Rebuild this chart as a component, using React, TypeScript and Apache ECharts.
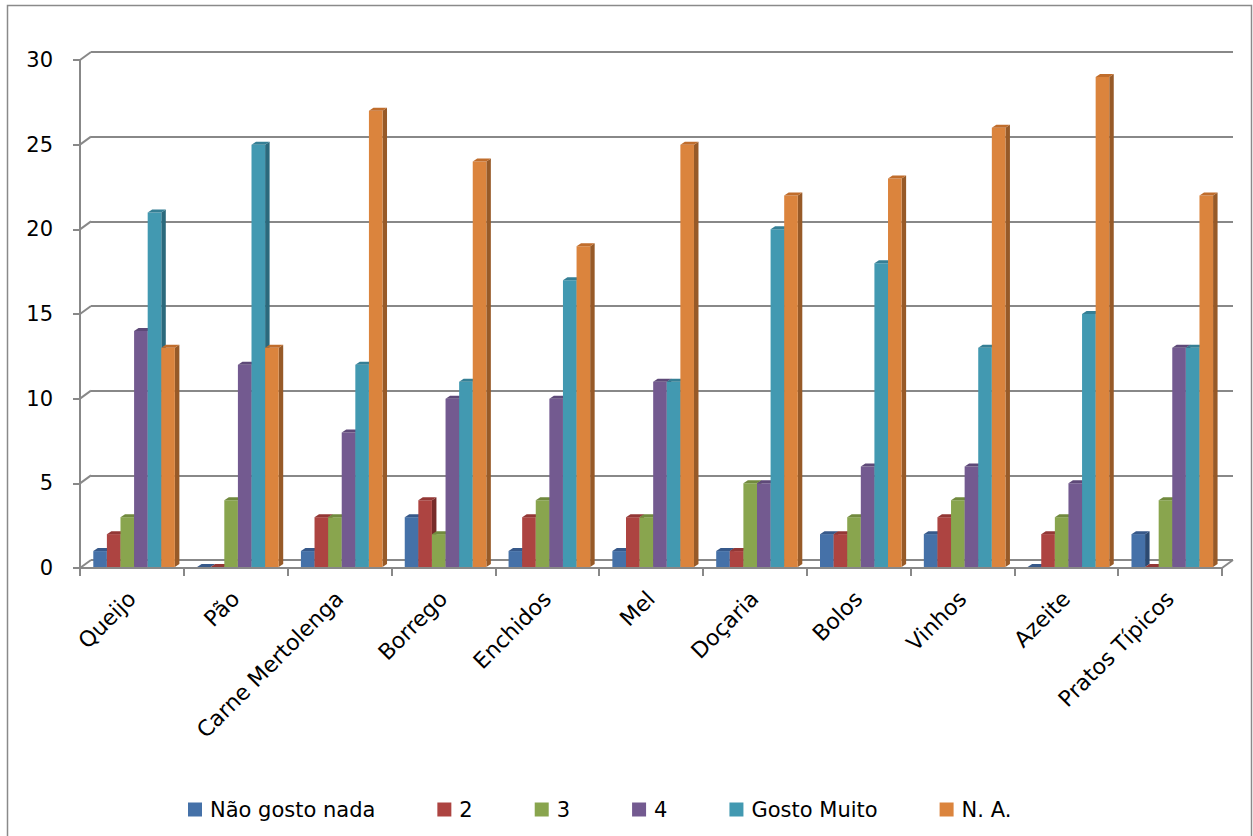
import React, { useEffect, useRef } from "react";
import * as echarts from "echarts";

// Categories and the number of answers per rating
const categories = [
  "Queijo",
  "Pão",
  "Carne Mertolenga",
  "Borrego",
  "Enchidos",
  "Mel",
  "Doçaria",
  "Bolos",
  "Vinhos",
  "Azeite",
  "Pratos Típicos",
];
const seriesNames = ["Não gosto nada", "2", "3", "4", "Gosto Muito", "N. A."];
const naoGostoNada = [1, 0, 1, 3, 1, 1, 1, 2, 2, 0, 2];
const nivel2 = [2, 0, 3, 4, 3, 3, 1, 2, 3, 2, 0];
const nivel3 = [3, 4, 3, 2, 4, 3, 5, 3, 4, 3, 4];
const nivel4 = [14, 12, 8, 10, 10, 11, 5, 6, 6, 5, 13];
const gostoMuito = [21, 25, 12, 11, 17, 11, 20, 18, 13, 15, 13];
const naoAplicavel = [13, 13, 27, 24, 19, 25, 22, 23, 26, 29, 22];
const yTicks = [0, 5, 10, 15, 20, 25, 30];

const seriesValues = [naoGostoNada, nivel2, nivel3, nivel4, gostoMuito, naoAplicavel];

// front / top / side shades of each column
const palette = [
  { front: "#4571a8", top: "#37598a", side: "#2c4a71" },
  { front: "#ad4441", top: "#933735", side: "#772b2a" },
  { front: "#89a54e", top: "#718a3e", side: "#5b7131" },
  { front: "#735a90", top: "#5e4978", side: "#4b3a60" },
  { front: "#4299b1", top: "#357f95", side: "#2b697c" },
  { front: "#db843d", top: "#c06d2c", side: "#975a28" },
];

const FONT = "DejaVu Sans";
const GRID_COLOR = "#888888";
const DEPTH_X = 11;
const DEPTH_Y = 8;
const BAR_DX = 4.5;
const BAR_DY = 3;

function barRenderer(seriesIndex: number) {
  return (params: any, api: any) => {
    const idx = api.value(0);
    const val = api.value(1);
    const base = api.coord([idx, 0]);
    const top = api.coord([idx, val]);
    const band = api.size([1, 0])[0];
    const bw = band * 0.131;
    const start = base[0] - band / 2 + band * 0.128;
    const x0 = start + seriesIndex * bw;
    const x1 = x0 + bw;
    const yb = base[1] - 1;
    const yt = Math.min(top[1], yb);
    const c = palette[seriesIndex];
    return {
      type: "group",
      children: [
        {
          type: "polygon",
          shape: {
            points: [
              [x1, yt],
              [x1 + BAR_DX, yt - BAR_DY],
              [x1 + BAR_DX, yb - BAR_DY],
              [x1, yb],
            ],
          },
          style: { fill: c.side },
        },
        {
          type: "rect",
          shape: { x: x0, y: yt, width: bw, height: yb - yt },
          style: { fill: c.front },
        },
        {
          type: "polygon",
          shape: {
            points: [
              [x0, yt],
              [x0 + BAR_DX, yt - BAR_DY],
              [x1 + BAR_DX, yt - BAR_DY],
              [x1, yt],
            ],
          },
          style: { fill: c.top },
        },
      ],
    };
  };
}

// slanted joins between the front value axis and the back wall
function wallRenderer(params: any, api: any) {
  const cs = params.coordSys;
  const v = api.value(1);
  const y = api.coord([0, v])[1];
  const children: any[] = [
    {
      type: "line",
      shape: { x1: cs.x, y1: y, x2: cs.x + DEPTH_X, y2: y - DEPTH_Y },
      style: { stroke: GRID_COLOR, lineWidth: 2 },
    },
  ];
  if (v === 0) {
    children.push({
      type: "line",
      shape: {
        x1: cs.x + cs.width,
        y1: y,
        x2: cs.x + cs.width + DEPTH_X,
        y2: y - DEPTH_Y,
      },
      style: { stroke: GRID_COLOR, lineWidth: 2 },
    });
  }
  return { type: "group", children };
}

export default function App() {
  const ref = useRef<HTMLDivElement>(null);

  useEffect(() => {
    if (!ref.current) return;
    const chart = echarts.init(ref.current, null, { renderer: "svg" });

    const barSeries = seriesValues.map((vals, si) => ({
      type: "custom",
      name: seriesNames[si],
      xAxisIndex: 0,
      yAxisIndex: 0,
      renderItem: barRenderer(si),
      encode: { x: 0, y: 1 },
      itemStyle: { color: palette[si].front },
      data: vals.map((v, i) => [i, v]),
      clip: false,
      z: 3,
    }));

    chart.setOption({
      animation: false,
      backgroundColor: "#ffffff",
      textStyle: { fontFamily: FONT },
      grid: [
        { left: 80, top: 60, width: 1142, height: 508 },
        { left: 80 + DEPTH_X, top: 60 - DEPTH_Y, width: 1142, height: 508 },
      ],
      xAxis: [
        {
          type: "category",
          gridIndex: 0,
          data: categories,
          axisLine: { show: true, lineStyle: { color: GRID_COLOR, width: 2 } },
          axisTick: { show: true, length: 8, lineStyle: { color: GRID_COLOR, width: 2 } },
          axisLabel: {
            rotate: 45,
            interval: 0,
            margin: 27,
            fontSize: 22,
            fontFamily: FONT,
            color: "#000000",
          },
          splitLine: { show: false },
        },
        {
          type: "category",
          gridIndex: 1,
          data: categories,
          show: false,
        },
      ],
      yAxis: [
        {
          type: "value",
          gridIndex: 0,
          min: 0,
          max: 30,
          interval: 5,
          axisLine: { show: true, lineStyle: { color: GRID_COLOR, width: 2 } },
          axisTick: { show: true, length: 7, lineStyle: { color: GRID_COLOR, width: 2 } },
          axisLabel: {
            margin: 27,
            fontSize: 21,
            fontFamily: FONT,
            color: "#000000",
          },
          splitLine: { show: false },
        },
        {
          type: "value",
          gridIndex: 1,
          min: 0,
          max: 30,
          interval: 5,
          axisLine: { show: false },
          axisTick: { show: false },
          axisLabel: { show: false },
          splitLine: { show: true, lineStyle: { color: GRID_COLOR, width: 2 } },
        },
      ],
      legend: {
        left: 188,
        top: 799,
        padding: 0,
        itemWidth: 14,
        itemHeight: 14,
        itemGap: 62,
        icon: "rect",
        textStyle: {
          fontFamily: FONT,
          fontSize: 21,
          color: "#000000",
          padding: [0, 0, 0, 3],
        },
        data: seriesNames.map((n, i) => ({
          name: n,
          icon: "rect",
          itemStyle: { color: palette[i].front },
        })),
      },
      graphic: [
        {
          type: "rect",
          shape: { x: 7.5, y: 5.5, width: 1244, height: 840 },
          style: { fill: "none", stroke: "#8a8a8a", lineWidth: 1.5 },
          silent: true,
        },
      ],
      series: [
        {
          type: "custom",
          name: "wall",
          xAxisIndex: 0,
          yAxisIndex: 0,
          renderItem: wallRenderer,
          encode: { x: 0, y: 1 },
          data: yTicks.map((v) => [0, v]),
          clip: false,
          silent: true,
          z: 1,
        },
        ...barSeries,
      ],
    });

    return () => chart.dispose();
  }, []);

  return (
    <div
      ref={ref}
      style={{ position: "absolute", left: 0, top: 0, width: 1253, height: 836 }}
    />
  );
}
